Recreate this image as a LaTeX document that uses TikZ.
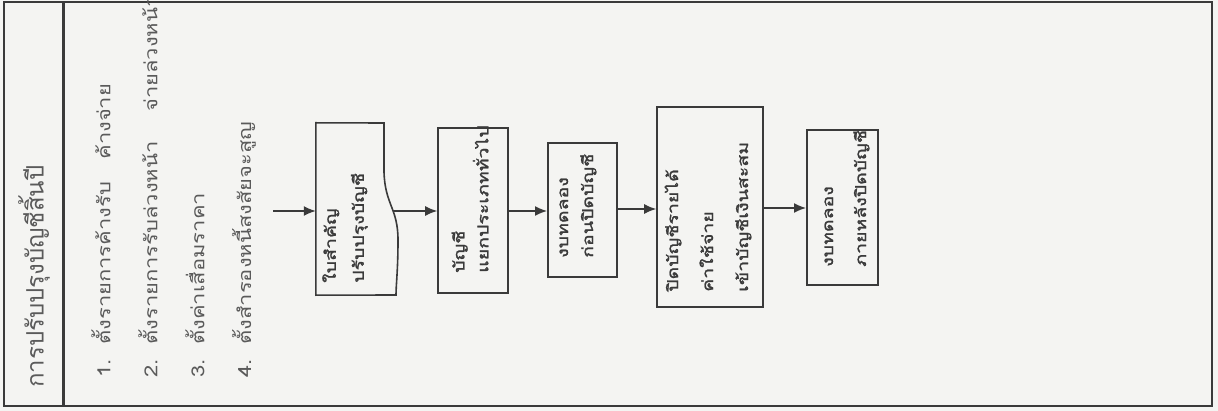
\documentclass[tikz,border=0pt]{standalone}
\usepackage{fontspec}
\newfontfamily\thaiT[Script=Thai]{Loma}
\newfontfamily\thaiI[Script=Thai,FakeStretch=1.22]{Loma}
\newfontfamily\thaiB[Script=Thai,FakeStretch=1.3,FakeBold=1.5]{Loma}
\usetikzlibrary{arrows.meta}
\definecolor{ink}{HTML}{3A3A3A}
\definecolor{txt}{HTML}{5A5A5A}
\definecolor{paper}{HTML}{F4F4F2}
\tikzset{
  box/.style={draw=ink, line width=1.6pt, minimum width=#1},
  boxtext/.style={rotate=90, anchor=west, align=left, text=ink, font=\thaiB\fontsize{15}{28}\selectfont, inner sep=0pt},
  item/.style={rotate=90, anchor=west, text=txt, font=\thaiI\fontsize{18}{22}\selectfont, inner sep=0pt},
  flow/.style={draw=ink, line width=1.5pt, -{Latex[length=12pt,width=10pt]}},
}
\begin{document}
\begin{tikzpicture}[x=1pt,y=-1pt]
\useasboundingbox (0,0) rectangle (1218,411);
\fill[paper] (0,0) rectangle (1218,411);
% frame
\draw[ink, line width=2.6pt] (4,2) rectangle (1212,406);
\draw[ink, line width=3pt] (63,2) -- (63,406);
% title
\node[rotate=90, anchor=west, text=txt, font=\thaiT\fontsize{24}{28}\selectfont, inner sep=0pt] (title) at (34,388) {การปรับปรุงบัญชีสิ้นปี};
% items
\node[item] (i1) at (101,378) {1.\ \ ตั้งรายการค้างรับ\ \ \ ค้างจ่าย};
\node[item] (i2) at (148,378) {2.\ \ ตั้งรายการรับล่วงหน้า\ \ \ \ จ่ายล่วงหน้า};
\node[item] (i3) at (195,378) {3.\ \ ตั้งค่าเสื่อมราคา};
\node[item] (i4) at (244,378) {4.\ \ ตั้งสำรองหนี้สงสัยจะสูญ};
% boxes
\node[minimum width=82pt, minimum height=172pt, inner sep=0pt] (b1) at (357,209) {};
\draw[ink, line width=1.6pt] (b1.north west) -- (384,123) -- (384,172)
   .. controls (385,205) and (398,208) .. (398,240)
   .. controls (398,270) and (396,285) .. (396,295) -- (b1.south west) -- cycle;
\node[box=70pt, minimum height=165pt] (b2) at (473,210.5) {};
\node[box=69pt, minimum height=134pt, line width=2pt] (b3) at (582.5,210) {};
\node[box=106pt, minimum height=200pt] (b4) at (710,207) {};
\node[box=71pt, minimum height=155pt, line width=2pt] (b5) at (842.5,207.5) {};
% box texts
\node[boxtext] (t1) at (345,283) {ใบสำคัญ\\ปรับปรุงบัญชี};
\node[boxtext, font=\thaiB\fontsize{15}{24}\selectfont] (t2) at (470,273) {บัญชี\\แยกประเภททั่วไป};
\node[boxtext, font=\thaiB\fontsize{15}{25}\selectfont] (t3) at (578,258) {งบทดลอง\\ก่อนปิดบัญชี};
\node[boxtext, font=\thaiB\fontsize{15}{35}\selectfont] (t4) at (708,292) {ปิดบัญชีรายได้\\ค่าใช้จ่าย\\เข้าบัญชีเงินสะสม};
\node[boxtext, font=\thaiB\fontsize{15}{33}\selectfont] (t5) at (847,267) {งบทดลอง\\ภายหลังปิดบัญชี};
% connectors
\coordinate (s) at (273,211);
\draw[flow] (s) -- (s -| b1.west);
\draw[flow] (393,211) -- (b2.west |- 393,211);
\draw[flow] (b2.east |- 0,211) -- (b3.west |- 0,211);
\draw[flow] (b3.east |- 0,209) -- (b4.west |- 0,209);
\draw[flow] (b4.east |- 0,208) -- (b5.west |- 0,208);
\end{tikzpicture}
\end{document}
